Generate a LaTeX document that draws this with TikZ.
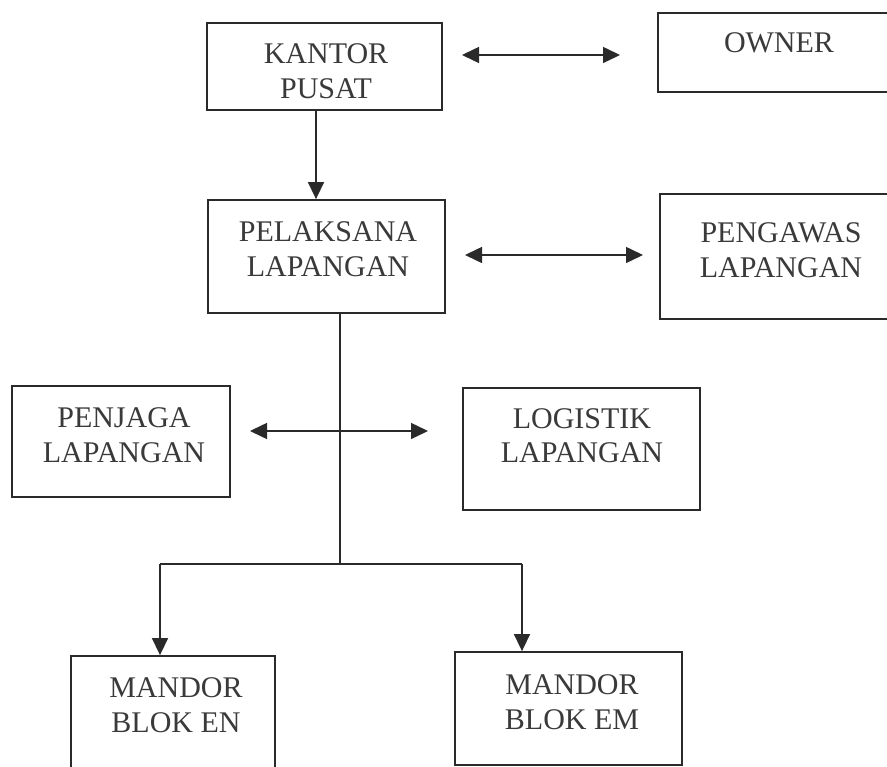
\documentclass[tikz,border=0pt]{standalone}
\usepackage{fontspec}
\setmainfont{Liberation Serif}
\usetikzlibrary{arrows.meta}
\definecolor{ink}{HTML}{2A2A2A}
\definecolor{txt}{HTML}{3A3A3A}
\tikzset{
  box/.style={draw=ink, line width=1.8pt, rectangle, inner sep=0pt},
  lbl/.style={text=txt, align=center, inner sep=0pt, font=\fontsize{30}{35}\selectfont},
  conn/.style={draw=ink, line width=1.5pt},
  arr/.style={conn, -{Triangle[length=17pt,width=16pt]}},
  darr/.style={conn, {Triangle[length=17pt,width=16pt]}-{Triangle[length=17pt,width=16pt]}}
}
\begin{document}
\begin{tikzpicture}[x=1pt,y=-1pt]
\useasboundingbox (0,0) rectangle (887,767);
\fill[white] (0,0) rectangle (887,767);
\clip (0,0) rectangle (887,767);
% boxes
\node[box, minimum width=235pt, minimum height=87pt] (kp) at (324.5,66.5) {};
\node[box, minimum width=234pt, minimum height=79pt] (ow) at (775,52.5) {};
\node[box, minimum width=237pt, minimum height=113pt] (pl) at (326.5,256.5) {};
\node[box, minimum width=232pt, minimum height=125pt] (pg) at (776,256.5) {};
\node[box, minimum width=218pt, minimum height=111pt] (pj) at (121,441.5) {};
\node[box, minimum width=237pt, minimum height=122pt] (lg) at (581.5,449) {};
\node[box, minimum width=204pt, minimum height=129pt] (me) at (173,720.5) {};
\node[box, minimum width=227pt, minimum height=113pt] (mm) at (568.5,708.5) {};
% labels (base anchor = baseline of last line)
\node[lbl, anchor=base] (tkp) at (326,99) {KANTOR\\PUSAT};
\node[lbl, anchor=base] (tow) at (779,53) {OWNER};
\node[lbl, anchor=base] (tpl) at (328,277) {PELAKSANA\\LAPANGAN};
\node[lbl, anchor=base] (tpg) at (781,278) {PENGAWAS\\LAPANGAN};
\node[lbl, anchor=base] (tpj) at (124,462) {PENJAGA\\LAPANGAN};
\node[lbl, anchor=base] (tlg) at (582,463) {LOGISTIK\\LAPANGAN};
\node[lbl, anchor=base] (tme) at (176,732) {MANDOR\\BLOK EN};
\node[lbl, anchor=base] (tmm) at (572,729) {MANDOR\\BLOK EM};
% connector coordinates
\coordinate (a1) at (462,55);
\coordinate (a2) at (620,55);
\coordinate (b1) at (465,255);
\coordinate (b2) at (643,255);
\coordinate (c1) at (250,431);
\coordinate (c2) at (428,431);
\coordinate (x1) at (316,0);
\coordinate (x2) at (340,0);
\coordinate (j) at (340,564);
\coordinate (jl) at (160,564);
\coordinate (jr) at (522,564);
% connectors
\draw[darr] (a1) -- (a2);
\draw[darr] (b1) -- (b2);
\draw[darr] (c1) -- (c2);
\draw[arr] (kp.south -| x1) -- (pl.north -| x1);
\draw[conn] (pl.south -| x2) -- (j);
\draw[conn] (jl) -- (jr);
\draw[arr] (jl) -- (me.north -| jl);
\draw[arr] (jr) -- (mm.north -| jr);
\end{tikzpicture}
\end{document}
